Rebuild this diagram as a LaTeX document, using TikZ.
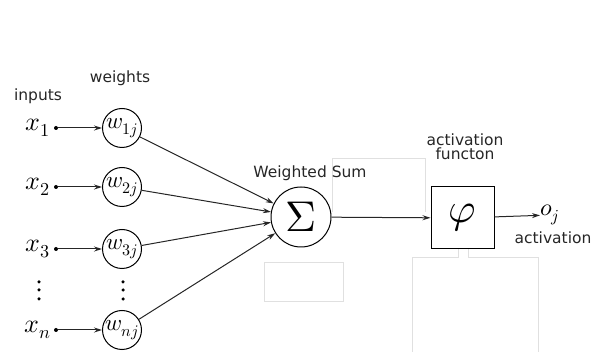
\documentclass[tikz,border=0pt]{standalone}
\usepackage{fontspec}
\usepackage{unicode-math}
\setmathfont{Latin Modern Math}
\setsansfont{DejaVu Sans}
\usetikzlibrary{arrows.meta}
\begin{document}
\begin{tikzpicture}[x=1pt,y=-1pt,
  lbl/.style={font=\sffamily\fontsize{15.5}{17}\selectfont, inner sep=0pt, align=center, text=black!85},
  var/.style={font=\fontsize{26}{27}\selectfont, inner sep=0pt},
  wnode/.style={circle, draw, line width=1pt, minimum size=39pt, inner sep=0pt, font=\fontsize{23}{24}\selectfont},
  conn/.style={line width=1pt, draw=black!85, -{Stealth[length=8pt,width=5pt]}},
  ghost/.style={draw=black!12, line width=0.6pt},
  dotn/.style={circle, fill, inner sep=0pt, minimum size=4pt},
  vdot/.style={circle, fill, inner sep=0pt, minimum size=3.5pt}]
\useasboundingbox (0,0) rectangle (597,352);
% faint ghost boxes
\draw[ghost] (264,262) rectangle (343,301);
\draw[ghost] (332,212) -- (332,158) -- (425,158) -- (425,212);
\draw[ghost] (412,352) -- (412,257) -- (458,257) -- (458,249);
\draw[ghost] (468,249) -- (468,257) -- (538,257) -- (538,352);
% labels
\node[lbl] (inputs) at (38,96) {inputs};
\node[lbl] (weights) at (120,78) {weights};
% inputs
\foreach \i/\y/\sub in {1/128/1, 2/187/2, 3/249/3, n/330/n}{
  \node[var] (x\i) at (38,\y) {$x_{\sub}$};
  \node[dotn] (d\i) at (56,\y) {};
  \node[wnode] (w\i) at (122,\y) {$w_{\sub j}$};
  \draw[conn] (d\i) -- (w\i);
}
\foreach \xx/\nm in {39/a,123/b}{
  \node[vdot] (\nm1) at (\xx,282) {};
  \node[vdot] (\nm2) at (\xx,290) {};
  \node[vdot] (\nm3) at (\xx,299) {};
}
% sum
\node[circle, draw, line width=1pt, minimum size=60pt, inner sep=0pt, font=\fontsize{43}{43}\selectfont] (s) at (301,217) {$\Sigma$};
\node[lbl] (ws) at (310,173) {Weighted Sum};
\foreach \i in {1,2,3,n}{ \draw[conn] (w\i) -- (s); }
% activation
\node[draw, line width=1pt, minimum width=63pt, minimum height=62pt, inner sep=0pt, font=\fontsize{42}{42}\selectfont] (phi) at (462.5,218) {$\varphi$};
\node[lbl] (af) at (465,147) {activation\\[-3pt]functon};
\draw[conn] (s) -- (phi);
\node[font=\fontsize{24}{24}\selectfont, inner sep=0pt, anchor=west] (o) at (540,215) {$o_j$};
\draw[conn] (phi) -- (o);
\node[lbl] (act) at (553,238) {activation};
\end{tikzpicture}
\end{document}
